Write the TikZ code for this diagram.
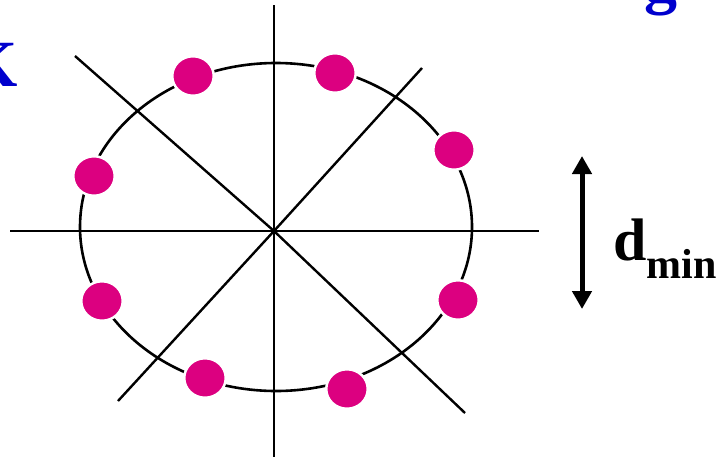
\documentclass[tikz,border=0pt]{standalone}
\usepackage{fontspec}
\setmainfont{Liberation Serif}
\usetikzlibrary{
  arrows.meta,
  positioning,
  shapes.geometric
}
\definecolor{PointMagenta}{RGB}{220,0,128}
\definecolor{TitleBlue}{RGB}{0,0,205}
\tikzset{
  ringline/.style={draw=black,line width=2.6pt,ellipse,inner sep=0pt,minimum width=392pt,minimum height=328pt},
  axisline/.style={draw=black,line width=2.4pt},
  signalpt/.style={ellipse,fill=PointMagenta,draw=white,line width=2.5pt,inner sep=0pt,minimum width=41.5pt,minimum height=39.5pt},
  dminarrow/.style={{Triangle[length=18pt,width=19pt]}-{Triangle[length=18pt,width=19pt]},line width=5pt,draw=black},
  dminlabel/.style={inner sep=0pt,anchor=base west,font=\bfseries\fontsize{60}{60}\selectfont},
  titlebit/.style={inner sep=0pt,text=TitleBlue,font=\bfseries\fontsize{66}{66}\selectfont}
}

\begin{document}
\begin{tikzpicture}[x=1pt,y=-1pt]
\useasboundingbox (0,0) rectangle (717,458);
\clip (0,0) rectangle (717,458);

% cut-off title letters
\node[titlebit,anchor=base east] (tk) at (18,86) {K};
\node[titlebit,anchor=base west] (tg) at (644,1) {g};

% ring and axes
\node[ringline] (ring) at (276,227) {};
\coordinate (c) at (274,231);
\coordinate (h1) at (10,231);
\coordinate (h2) at (539,231);
\coordinate (v1) at (274,5);
\coordinate (v2) at (274,457);
\coordinate (a1) at (75,56);
\coordinate (a2) at (465,413);
\coordinate (b1) at (118,401);
\coordinate (b2) at (422,68);
\draw[axisline] (h1) -- (h2);
\draw[axisline] (v1) -- (v2);
\draw[axisline] (a1) -- (c) -- (a2);
\draw[axisline] (b1) -- (c) -- (b2);

% signal points
\foreach \px/\py [count=\i] in {193/76,335/73,454/150,94/176,102/301,458/300,205/378,347/389}
  \node[signalpt] (p\i) at (\px,\py) {};

% distance marker
\coordinate (dtop) at (582,156);
\coordinate (dbot) at (582,309);
\draw[dminarrow] (dtop) -- (dbot);
\node[dminlabel] (dmin) at (613,260) {d\raisebox{-18pt}{\fontsize{42}{42}\selectfont min}};
\end{tikzpicture}
\end{document}
